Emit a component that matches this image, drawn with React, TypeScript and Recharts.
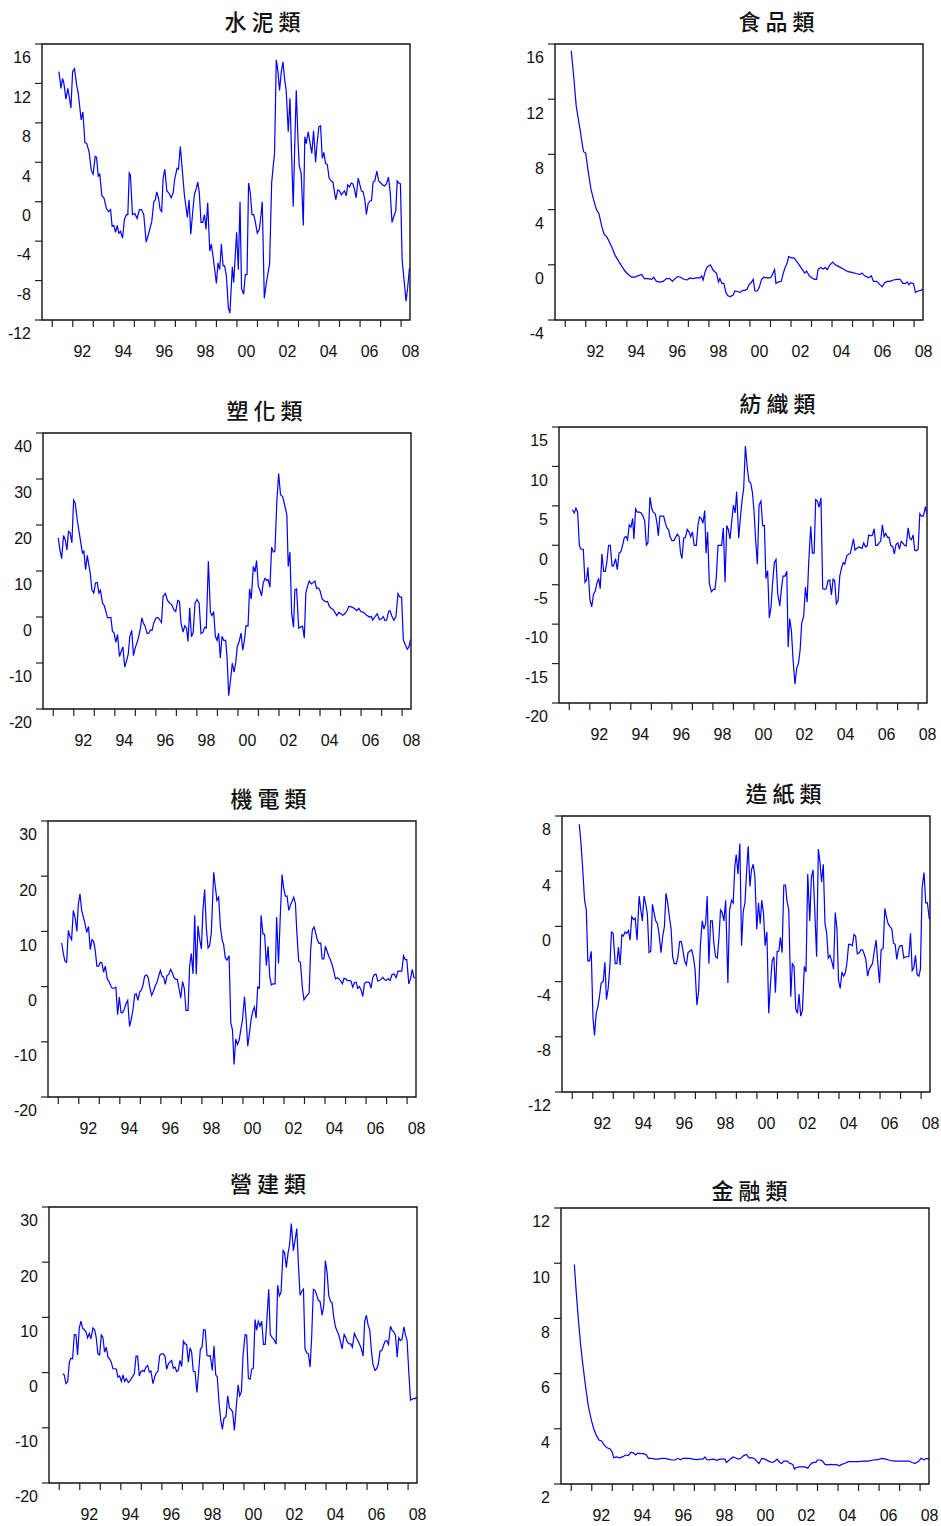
import { LineChart, Line, XAxis, YAxis, ReferenceArea } from "recharts"

type Pt = [number, number]

// x = months since Jan 1991, y = value
const cement: Pt[] = [
  [3.9,13.2],[5.1,11.5],[6.0,12.5],[6.8,12.0],[8.0,10.4],[9.1,11.5],[9.9,10.7],[10.9,9.5],[11.9,13.2],[13.0,13.5],
  [14.2,11.9],[15.2,11.0],[16.9,8.3],[17.9,9.1],[19.1,6.0],[20.2,5.9],[21.6,5.0],[22.8,3.2],[23.9,2.8],[25.1,4.6],
  [25.9,4.5],[26.9,2.6],[27.8,2.8],[29.0,0.6],[30.2,0.4],[31.7,-0.7],[32.9,-1.0],[34.1,-0.8],[35.0,-2.5],[36.0,-2.4],
  [37.0,-3.1],[38.0,-2.4],[38.9,-3.2],[39.9,-3.0],[41.1,-3.7],[42.2,-1.8],[43.4,-1.3],[44.2,-1.3],[45.0,2.9],[45.7,2.7],
  [46.9,-1.3],[48.3,-1.2],[49.6,-1.7],[51.0,-0.8],[52.2,-0.8],[53.5,-1.3],[54.9,-4.1],[56.4,-3.2],[58.2,-2.0],[59.4,0.0],
  [60.3,0.2],[61.1,1.0],[62.1,0.4],[63.1,-0.8],[64.0,-1.0],[64.8,2.3],[65.8,3.3],[67.0,1.1],[68.1,0.9],[69.5,0.4],
  [70.7,0.9],[71.6,2.3],[73.0,3.4],[73.8,3.3],[74.9,5.6],[76.1,3.1],[77.3,0.6],[78.1,-0.4],[79.0,-1.6],[80.0,0.2],
  [81.0,-3.3],[82.1,-1.1],[83.1,0.7],[84.3,1.4],[85.1,2.0],[86.0,0.9],[87.0,-2.1],[88.0,-2.1],[89.0,-1.3],[89.9,-2.8],
  [90.9,-0.1],[92.1,-5.0],[93.0,-4.3],[94.0,-5.5],[95.0,-6.9],[96.0,-8.3],[96.9,-6.2],[97.9,-6.9],[98.9,-4.3],[99.9,-6.5],
  [100.8,-6.5],[101.8,-7.5],[103.0,-10.8],[103.9,-11.3],[105.3,-6.6],[106.1,-8.2],[107.1,-5.2],[107.8,-3.1],[108.8,-6.9],[109.8,0.0],
  [110.7,-8.8],[111.9,-9.4],[112.9,-7.4],[113.9,-7.4],[114.8,1.9],[115.8,0.9],[116.8,-1.3],[117.8,-1.3],[118.7,-2.0],[119.9,-3.2],
  [121.1,-2.8],[121.8,-1.8],[122.8,0.0],[124.0,-9.8],[125.2,-8.2],[126.1,-7.3],[127.1,-6.3],[128.3,1.9],[129.2,3.6],[130.0,4.9],
  [131.0,14.4],[132.0,13.2],[132.9,11.3],[133.9,13.1],[134.9,14.2],[135.9,12.4],[136.8,11.3],[138.0,7.1],[139.0,10.5],[140.0,4.6],
  [140.9,-0.5],[141.9,6.3],[142.7,11.3],[143.7,6.3],[144.4,3.7],[145.6,2.8],[146.8,-2.4],[147.7,6.6],[148.5,5.9],[149.7,7.1],
  [150.7,6.0],[151.8,4.9],[152.8,7.2],[154.0,4.0],[154.7,5.6],[155.9,7.6],[156.9,7.7],[157.9,4.4],[158.8,5.0],[159.8,3.9],
  [160.8,3.8],[161.9,2.4],[163.1,2.1],[164.1,2.0],[165.1,0.9],[165.8,0.2],[167.0,1.2],[168.0,1.1],[169.0,0.7],[169.9,0.9],
  [170.9,1.1],[171.9,0.6],[172.8,1.7],[173.8,1.5],[174.8,1.9],[175.8,1.8],[176.7,1.3],[177.7,0.4],[178.9,2.4],[179.9,1.7],
  [180.8,1.1],[181.8,1.0],[182.8,0.2],[183.7,-1.3],[184.7,-0.2],[185.9,0.1],[186.7,0.1],[187.6,2.0],[188.6,2.1],[189.8,3.1],
  [190.9,2.1],[192.1,1.9],[193.3,1.7],[194.3,1.6],[195.4,1.8],[196.6,2.5],[197.6,1.0],[198.7,-2.1],[199.9,-1.4],[200.9,-0.9],
  [201.7,2.1],[202.6,1.9],[203.6,1.8],[204.6,-5.9],[205.7,-7.9],[206.9,-10.1],[207.9,-8.6],[208.9,-6.7],
]

const food: Pt[] = [
  [3.5,15.5],[4.9,13.7],[6.4,11.5],[8.4,10.0],[10.0,8.7],[10.7,8.2],[11.9,8.1],[13.5,6.7],[15.0,5.5],[16.6,4.7],
  [18.2,4.0],[19.7,3.7],[21.3,2.8],[22.8,2.2],[24.4,2.0],[26.0,1.6],[27.5,1.2],[29.1,0.7],[31.0,0.3],[33.0,-0.1],
  [34.9,-0.45],[36.9,-0.7],[38.8,-0.9],[40.8,-0.9],[42.4,-0.8],[44.7,-0.7],[46.3,-1.0],[48.2,-1.0],[50.6,-1.05],[51.7,-0.9],
  [53.3,-1.2],[55.2,-1.25],[57.2,-1.2],[59.2,-1.0],[61.1,-1.0],[62.7,-1.2],[64.2,-1.0],[65.8,-0.85],[67.4,-0.9],[69.3,-1.05],
  [71.3,-1.1],[72.8,-0.95],[74.8,-1.0],[76.7,-0.95],[78.7,-0.95],[79.8,-0.8],[80.6,-1.1],[81.8,-0.5],[83.0,-0.15],[84.9,0.0],
  [86.5,-0.4],[88.4,-0.6],[89.6,-1.25],[90.4,-1.0],[91.6,-1.35],[92.7,-1.35],[93.9,-2.0],[95.1,-2.25],[96.6,-2.3],[98.2,-2.2],
  [99.2,-1.9],[100.9,-1.95],[102.5,-2.0],[103.7,-1.85],[105.2,-1.85],[106.4,-1.75],[107.6,-1.4],[108.7,-1.3],[109.9,-1.05],[110.9,-1.9],
  [112.3,-1.9],[113.4,-1.65],[114.8,-1.05],[116.2,-0.9],[117.7,-0.95],[119.7,-0.95],[120.8,-0.8],[122.4,-0.35],[123.2,-1.35],[124.4,-1.25],
  [126.3,-1.2],[127.5,-0.6],[128.6,-0.2],[129.8,0.15],[130.6,0.6],[132.2,0.5],[133.7,0.5],[135.3,0.25],[136.8,0.0],[138.4,-0.3],
  [140.0,-0.6],[141.1,-0.45],[142.7,-0.8],[144.3,-0.95],[145.8,-1.05],[147.0,-1.05],[147.8,-0.35],[149.3,-0.2],[150.9,-0.3],[152.1,-0.2],
  [153.2,-0.35],[154.8,0.0],[156.4,0.2],[157.9,0.0],[160.3,-0.15],[162.6,-0.3],[165.3,-0.5],[167.7,-0.55],[170.4,-0.65],[172.4,-0.7],
  [173.5,-0.6],[175.1,-0.8],[177.5,-0.95],[179.0,-0.8],[180.2,-1.2],[182.1,-1.2],[183.7,-1.4],[185.3,-1.6],[186.8,-1.3],[188.4,-1.2],
  [189.9,-1.2],[191.9,-1.1],[193.9,-1.05],[195.8,-1.05],[197.4,-1.35],[198.9,-1.35],[200.1,-1.25],[200.9,-1.45],[202.1,-1.3],[203.6,-1.35],
  [204.8,-2.0],[206.3,-1.9],[207.9,-1.85],[209.2,-1.75],
]

const plastic: Pt[] = [
  [2.9,17.2],[3.9,14.6],[4.9,12.7],[6.0,17.7],[7.0,16.8],[8.0,14.6],[8.9,18.6],[9.9,18.3],[10.9,16.1],[11.9,25.4],
  [12.8,24.8],[14.0,21.2],[15.2,18.3],[16.4,15.4],[17.1,13.9],[17.9,14.3],[18.9,10.3],[19.9,13.4],[20.6,11.7],[21.6,9.6],
  [22.6,5.9],[23.7,5.2],[24.7,7.4],[25.7,7.5],[26.7,5.2],[27.6,5.8],[28.8,3.0],[29.8,2.5],[30.8,1.2],[31.7,-0.2],
  [33.7,-0.1],[34.6,-3.1],[35.6,-3.5],[36.6,-5.5],[37.6,-3.8],[38.7,-8.6],[39.7,-7.5],[40.7,-6.5],[41.8,-10.9],[42.8,-9.6],
  [43.8,-8.2],[44.8,-4.2],[45.9,-2.9],[46.9,-8.4],[47.9,-6.7],[48.9,-5.7],[50.0,-4.2],[51.0,-2.4],[51.8,-0.2],[52.7,-1.3],
  [53.7,-2.0],[54.9,-3.6],[55.9,-3.5],[56.8,-2.8],[57.8,-2.9],[58.8,-1.3],[60.0,-0.2],[61.1,-0.1],[62.3,-0.6],[63.3,-1.2],
  [64.2,4.5],[65.6,5.1],[66.8,3.6],[68.1,3.0],[69.3,2.7],[70.5,1.6],[71.6,1.2],[72.8,3.6],[73.8,3.4],[74.7,-1.3],
  [75.9,-3.3],[76.9,-1.9],[77.9,-2.4],[78.8,-5.3],[79.8,2.0],[80.8,-4.3],[81.8,-3.5],[82.9,3.0],[84.1,3.8],[85.3,3.0],
  [86.4,-3.6],[87.6,-3.3],[88.6,-2.2],[89.5,-2.4],[90.7,12.1],[91.9,1.0],[92.8,0.3],[93.8,1.2],[94.8,-4.2],[95.8,-5.1],
  [96.7,-3.5],[97.7,-8.9],[98.7,-4.2],[99.7,-5.1],[100.8,-5.1],[101.6,-8.6],[102.6,-17.1],[103.7,-13.6],[104.7,-10.0],[105.7,-12.0],
  [106.7,-10.0],[107.6,-6.4],[108.6,-5.5],[109.8,-3.5],[110.8,-7.2],[111.7,-5.3],[112.7,-1.9],[113.9,-2.0],[114.8,6.1],[115.8,3.9],
  [117.0,11.0],[118.0,9.8],[118.9,12.3],[119.9,6.7],[120.9,5.8],[121.8,4.6],[122.8,7.4],[123.8,8.4],[124.8,8.0],[125.7,8.1],
  [126.7,6.5],[127.7,15.2],[128.7,14.1],[129.6,14.3],[130.8,25.5],[131.8,31.2],[132.9,26.6],[134.1,26.2],[135.3,24.4],[136.6,22.2],
  [137.4,11.0],[138.4,14.1],[139.4,0.9],[140.5,-2.2],[141.3,5.9],[142.3,6.1],[143.5,-2.4],[144.6,-2.2],[145.8,-2.0],[146.8,-4.6],
  [147.7,5.2],[148.7,6.7],[149.7,7.8],[150.9,7.2],[152.0,7.5],[153.0,7.8],[154.0,6.2],[155.1,6.3],[156.1,5.6],[157.3,3.9],
  [158.2,3.6],[159.2,3.3],[160.4,3.4],[161.4,2.3],[162.5,1.9],[163.7,1.6],[164.7,1.0],[165.8,0.3],[167.0,1.0],[168.2,0.7],
  [169.3,0.4],[170.5,0.7],[171.7,1.3],[172.8,2.3],[174.4,2.2],[175.9,1.9],[177.5,1.4],[178.7,1.9],[179.8,1.2],[181.4,1.0],
  [182.9,0.5],[184.9,0.0],[186.1,0.1],[186.8,-0.7],[188.0,0.0],[189.5,0.7],[190.7,-0.6],[191.9,-0.4],[193.0,0.1],[194.0,-0.8],
  [195.0,-0.6],[196.1,1.2],[196.9,1.4],[198.1,0.1],[199.2,-0.7],[200.4,0.1],[201.6,5.1],[202.7,4.3],[203.7,4.3],[204.7,-4.9],
  [205.8,-6.0],[207.0,-7.0],[208.0,-6.5],[208.9,-4.9],
]

const textile: Pt[] = [
  [1.8,4.5],[2.9,4.1],[3.9,4.7],[4.9,4.2],[5.9,0.0],[6.8,-0.5],[8.2,-0.5],[9.2,-4.7],[10.1,-4.4],[10.9,-2.8],
  [12.1,-6.9],[13.1,-7.8],[14.2,-6.2],[15.2,-5.8],[16.2,-4.8],[17.2,-4.2],[18.1,-5.5],[19.1,-1.1],[20.1,-3.3],[21.1,-3.3],
  [22.0,-2.1],[23.0,0.0],[24.0,0.0],[25.0,-2.6],[25.9,-2.6],[27.1,-1.7],[28.1,-3.1],[29.1,-1.0],[30.2,-0.8],[31.2,0.0],
  [32.2,1.0],[33.2,1.1],[34.1,0.7],[35.1,2.6],[36.1,2.3],[37.1,3.4],[37.8,0.8],[38.8,4.6],[39.8,4.2],[41.0,4.2],
  [42.1,4.1],[43.1,3.7],[44.1,3.1],[45.1,0.0],[46.0,0.3],[47.2,6.1],[48.2,4.7],[49.1,4.2],[50.3,4.0],[51.3,2.8],
  [52.1,1.2],[53.0,3.7],[54.2,3.7],[55.2,3.7],[56.2,2.8],[57.1,2.2],[58.1,2.0],[58.9,1.1],[60.1,0.6],[61.2,0.6],
  [62.2,1.0],[63.2,1.4],[64.2,1.1],[65.1,-1.0],[65.9,-1.7],[66.9,0.9],[67.9,1.0],[69.0,2.0],[70.0,1.7],[71.0,1.1],
  [72.0,1.7],[73.1,0.0],[74.3,0.0],[75.3,2.6],[76.2,3.6],[77.2,3.4],[78.2,2.8],[79.2,4.4],[80.0,-1.0],[80.9,1.7],
  [81.9,-4.8],[83.1,-5.9],[84.3,-5.6],[85.2,-5.6],[86.0,-4.0],[87.0,0.0],[88.2,0.0],[89.1,0.0],[90.1,2.2],[91.1,-4.7],
  [92.1,2.5],[93.0,2.0],[94.0,0.8],[95.0,3.0],[96.0,5.1],[97.0,4.1],[97.9,6.8],[99.1,0.9],[100.0,3.3],[101.0,5.6],
  [102.0,7.2],[103.0,12.6],[104.1,9.8],[105.1,8.1],[106.1,7.9],[107.1,6.7],[108.0,4.5],[109.0,0.6],[110.0,-2.4],[111.0,5.1],
  [112.1,5.6],[113.1,2.5],[114.1,2.5],[115.0,-4.2],[116.0,-3.2],[117.0,-9.2],[118.0,-7.8],[118.9,-4.8],[119.9,-2.2],[120.9,-1.8],
  [121.9,-6.1],[123.1,-7.7],[124.1,-5.5],[125.0,-3.9],[126.2,-3.9],[127.2,-3.3],[128.0,-12.9],[128.9,-9.3],[129.9,-10.8],[130.9,-14.6],
  [132.0,-17.6],[133.0,-15.6],[134.0,-15.0],[135.0,-13.3],[135.9,-9.9],[137.1,-9.0],[138.1,-5.3],[139.1,-7.2],[140.0,-2.3],[141.2,2.4],
  [142.2,-1.0],[143.2,-1.0],[144.1,5.8],[145.1,5.6],[146.1,4.8],[147.2,6.0],[148.2,-5.5],[149.4,-5.6],[150.3,-5.5],[151.3,-4.5],
  [152.3,-4.4],[153.3,-6.3],[154.3,-4.3],[155.2,-4.5],[156.2,-7.4],[157.2,-7.0],[158.2,-3.9],[159.2,-2.9],[160.2,-2.2],[161.1,-2.4],
  [162.3,-1.3],[163.5,-1.1],[164.4,-1.0],[165.4,0.0],[166.2,0.8],[167.1,-0.6],[168.1,-0.4],[169.3,-0.2],[170.3,-0.3],[171.2,-0.4],
  [172.2,0.3],[173.2,-0.2],[174.2,-0.1],[175.1,1.3],[176.3,1.2],[177.3,1.3],[178.3,2.1],[179.2,0.0],[180.2,0.0],[181.2,0.3],
  [182.1,0.5],[183.1,2.6],[184.1,1.1],[185.1,1.5],[186.1,1.0],[187.0,1.0],[188.0,0.0],[189.2,-0.2],[190.1,-1.1],[191.1,0.1],
  [192.1,0.3],[193.1,-0.5],[194.1,0.5],[195.0,0.3],[196.0,0.0],[197.0,-0.1],[198.2,2.2],[199.1,0.9],[200.1,0.7],[201.1,1.3],
  [202.0,-0.6],[203.0,-0.7],[204.0,-0.5],[205.0,4.0],[206.0,3.7],[207.1,3.7],[208.3,4.9],[209.1,4.0],
]

const electric: Pt[] = [
  [2.0,7.9],[2.9,6.1],[3.9,4.6],[4.9,4.4],[5.9,10.2],[6.8,9.1],[7.8,8.5],[8.8,13.8],[9.9,12.4],[10.9,10.0],
  [11.7,14.8],[12.7,16.8],[13.7,13.8],[14.6,12.7],[15.6,11.5],[16.6,9.8],[17.7,10.9],[18.7,6.7],[19.7,8.5],[20.7,8.2],
  [21.6,6.6],[22.6,3.7],[23.6,3.7],[24.6,4.4],[25.5,4.3],[26.5,2.6],[27.5,3.7],[28.7,1.3],[29.6,1.0],[30.6,0.2],
  [31.6,-0.3],[32.6,-0.3],[33.7,-0.1],[34.7,-5.1],[35.7,-1.9],[36.7,-4.7],[37.6,-4.7],[38.6,-4.1],[39.6,-3.1],[40.6,-2.5],
  [41.7,-7.2],[42.7,-5.9],[43.7,-4.2],[44.7,-1.5],[45.6,-1.3],[46.6,-2.5],[47.6,-1.0],[48.6,-0.6],[49.5,0.2],[50.5,1.9],
  [51.7,2.1],[52.6,1.6],[53.6,-0.3],[54.6,-1.6],[55.8,-0.7],[56.8,0.2],[57.7,0.7],[58.7,1.9],[59.7,2.9],[60.7,1.9],
  [61.6,1.7],[62.6,0.4],[63.6,2.0],[64.6,2.2],[65.7,3.1],[66.7,2.5],[67.7,1.6],[68.7,1.3],[69.6,1.3],[70.6,-0.3],
  [71.6,-2.1],[72.7,0.9],[73.7,-0.3],[74.7,-4.3],[75.9,-4.3],[76.8,3.7],[77.8,6.0],[78.8,2.3],[79.8,12.9],[80.7,2.2],
  [81.7,11.0],[82.7,8.6],[83.7,6.8],[84.6,13.9],[85.6,17.6],[86.6,10.6],[87.6,7.0],[88.5,7.4],[89.5,9.7],[90.9,20.7],
  [91.9,17.9],[92.8,15.6],[93.8,16.2],[94.8,10.9],[95.8,8.5],[96.7,7.6],[97.7,5.2],[98.7,4.8],[99.9,5.6],[100.9,-6.6],
  [101.9,-7.9],[102.8,-14.1],[103.8,-9.5],[104.8,-10.5],[105.8,-9.7],[106.7,-7.9],[107.7,-6.1],[108.9,-1.8],[109.9,-6.0],[110.8,-10.8],
  [111.8,-8.4],[112.8,-5.9],[113.7,-4.5],[114.7,-3.7],[115.7,-5.7],[116.6,-0.1],[117.6,-0.3],[118.6,12.9],[119.7,9.6],[120.7,9.4],
  [121.7,3.8],[122.7,7.3],[123.7,1.7],[124.6,0.3],[125.6,0.5],[126.8,0.5],[127.7,12.6],[128.8,4.2],[129.9,13.3],[130.9,20.3],
  [131.8,17.9],[132.8,16.4],[133.8,16.4],[134.8,13.8],[135.7,14.7],[136.7,15.4],[137.7,16.2],[138.7,15.0],[139.6,9.4],[140.6,4.6],
  [141.6,4.4],[142.8,-0.4],[143.7,-2.4],[144.7,-1.9],[145.7,-1.5],[146.7,-1.2],[147.6,6.7],[148.6,10.3],[149.6,10.8],[150.6,9.6],
  [151.5,8.5],[152.5,7.8],[153.5,7.9],[154.3,5.0],[155.3,5.0],[156.2,7.3],[157.2,6.4],[158.2,5.5],[159.1,4.9],[160.1,4.0],
  [161.1,2.8],[162.1,1.4],[163.2,1.6],[164.2,1.4],[165.2,1.0],[166.2,0.5],[167.1,1.5],[168.1,1.4],[169.1,1.1],[170.3,1.1],
  [171.2,1.0],[172.2,-0.1],[173.2,0.7],[174.2,0.8],[175.1,-0.3],[176.1,0.0],[177.1,-0.6],[178.1,-1.8],[179.0,0.5],[180.0,0.8],
  [181.0,0.8],[182.0,0.7],[182.9,-0.3],[183.9,1.6],[184.9,2.2],[185.9,2.2],[186.8,1.0],[187.8,1.1],[188.8,1.3],[189.8,1.7],
  [190.7,1.3],[191.7,1.1],[192.9,1.4],[194.0,1.1],[195.2,2.2],[196.4,2.3],[197.6,1.6],[198.7,2.8],[199.9,2.8],[200.9,2.8],
  [201.9,5.6],[202.9,4.9],[203.8,4.9],[205.0,0.5],[206.0,1.4],[207.0,3.1],[208.0,1.6],[208.9,1.6],
]

const paper: Pt[] = [
  [4.1,7.4],[5.1,6.0],[6.0,4.4],[7.2,1.9],[8.2,1.2],[9.1,-2.5],[10.1,-2.5],[11.1,-1.8],[12.1,-6.6],[13.0,-7.9],
  [14.0,-6.3],[15.0,-5.8],[15.9,-5.1],[16.9,-4.1],[18.1,-4.0],[19.1,-2.6],[20.0,-5.3],[21.0,-4.5],[22.0,-2.9],[22.9,-0.4],
  [23.9,-0.5],[25.1,-2.7],[26.1,-2.7],[27.0,-1.5],[28.0,-2.8],[29.0,-0.6],[29.9,-0.7],[30.9,-0.4],[31.9,-0.5],[32.9,-0.3],
  [33.8,-1.0],[34.8,0.7],[35.8,0.5],[36.8,0.6],[37.9,-1.0],[39.1,2.2],[40.1,1.2],[41.0,0.4],[42.0,2.2],[43.0,1.6],
  [43.9,0.9],[44.9,-1.9],[45.9,-1.8],[46.9,1.6],[47.8,1.0],[48.8,0.4],[49.8,0.2],[50.8,-0.6],[51.9,-1.9],[52.9,-0.7],
  [53.9,0.0],[54.8,2.4],[55.8,1.7],[56.8,0.7],[57.8,-0.2],[58.7,-2.2],[59.7,-2.7],[60.9,-2.7],[61.8,-2.2],[62.8,-1.1],
  [63.8,-1.1],[64.8,-1.8],[65.7,-2.5],[66.7,-2.8],[67.7,-1.9],[68.7,-1.8],[69.8,-1.7],[70.8,-2.2],[71.8,-3.1],[72.9,-5.7],
  [73.9,-4.7],[74.9,-1.4],[76.0,0.4],[77.0,-0.2],[78.0,0.2],[78.9,2.2],[79.9,-2.7],[80.9,0.4],[81.9,0.4],[82.8,-1.2],
  [83.8,-2.2],[84.8,-2.3],[85.8,-0.8],[86.7,1.2],[87.7,1.0],[88.7,0.4],[89.7,1.9],[91.0,-4.1],[92.0,1.2],[93.2,1.9],
  [94.1,1.7],[95.1,4.4],[95.9,5.2],[96.9,3.8],[98.0,6.0],[99.0,-1.4],[100.0,1.1],[101.0,1.7],[102.0,4.1],[102.9,5.8],
  [103.9,2.9],[104.8,4.1],[105.8,4.5],[106.8,3.6],[107.9,-0.2],[108.9,1.7],[109.9,0.2],[110.8,1.9],[111.8,1.0],[112.8,-1.4],
  [113.8,-0.4],[114.9,-6.3],[115.9,-4.2],[116.9,-2.5],[117.9,-2.2],[118.8,-4.8],[119.8,-1.8],[120.8,-1.8],[121.7,-0.8],[122.7,-1.9],
  [123.7,3.0],[124.7,3.0],[125.6,1.8],[126.6,1.2],[127.8,-5.1],[128.7,-2.7],[129.7,-2.9],[130.7,-6.0],[131.7,-6.3],[132.6,-4.9],
  [133.6,-6.5],[134.6,-6.1],[135.7,-2.9],[136.7,-3.3],[137.7,3.8],[138.9,0.4],[139.8,3.5],[140.8,4.1],[141.8,1.2],[142.9,-2.2],
  [143.9,5.6],[144.9,4.6],[145.8,3.2],[146.8,4.5],[147.8,0.2],[148.8,-0.5],[149.7,-2.3],[150.7,-2.1],[151.7,-2.5],[152.8,-3.1],
  [153.8,1.0],[154.8,-0.2],[155.7,-3.9],[156.7,-4.5],[157.7,-3.3],[158.7,-3.6],[159.6,-3.4],[160.6,-2.7],[161.6,-1.3],[162.6,-1.3],
  [163.8,-1.4],[164.7,-0.6],[165.7,-0.7],[166.7,-2.0],[167.9,-1.9],[168.8,-1.7],[169.8,-1.7],[170.7,-2.0],[171.7,-2.4],[172.7,-3.6],
  [173.7,-3.1],[174.6,-2.9],[175.6,-2.7],[176.6,-1.8],[177.7,-1.0],[178.7,-2.7],[179.7,-4.1],[180.6,-1.7],[181.8,-1.6],[182.8,1.3],
  [183.7,0.7],[184.7,0.2],[185.7,0.0],[186.9,-0.2],[187.8,-1.2],[188.8,-1.3],[189.8,-2.4],[190.8,-1.6],[191.9,-1.4],[192.9,-1.4],
  [193.9,-2.3],[194.8,-2.2],[195.8,-2.2],[196.8,-2.2],[197.8,-0.5],[198.8,-3.2],[199.7,-3.0],[200.7,-2.1],[201.7,-3.5],[202.7,-3.6],
  [203.6,-3.1],[204.6,2.8],[205.7,3.9],[206.7,1.7],[207.7,1.7],[208.7,0.6],[209.1,0.5],
]

const construction: Pt[] = [
  [2.0,-0.2],[2.9,-0.4],[3.9,-2.0],[4.9,-1.7],[5.9,1.9],[6.8,2.6],[7.8,2.5],[8.8,6.9],[9.8,6.8],[10.7,3.2],
  [11.7,8.1],[12.7,9.3],[13.7,8.0],[14.6,7.8],[15.6,7.4],[16.6,6.3],[17.6,7.1],[18.5,6.1],[19.7,8.1],[20.7,7.7],
  [21.6,6.4],[22.6,3.4],[23.6,3.2],[24.6,6.8],[25.5,6.4],[26.5,3.7],[27.5,4.6],[28.5,2.8],[29.4,2.5],[30.4,1.9],
  [31.4,0.7],[32.4,0.7],[33.4,0.6],[34.3,-0.8],[35.3,-0.6],[36.3,-1.6],[37.3,-0.4],[38.2,-1.6],[39.2,-1.1],[40.4,-1.8],
  [41.5,-1.4],[42.7,-0.8],[43.9,-0.2],[44.9,3.0],[45.8,3.0],[46.8,-0.6],[47.8,0.2],[48.8,0.4],[49.7,0.2],[50.7,1.0],
  [51.7,1.3],[52.7,0.1],[53.6,0.3],[54.8,-2.0],[55.8,-0.8],[56.8,0.0],[57.7,0.2],[58.7,3.1],[59.7,3.4],[60.8,3.4],
  [61.8,3.0],[62.8,0.6],[63.8,1.6],[64.7,1.9],[65.7,2.2],[66.7,0.8],[67.7,1.0],[68.6,0.2],[69.6,0.4],[70.6,2.2],
  [71.6,1.1],[72.6,5.7],[73.5,5.2],[74.5,5.1],[75.5,1.9],[76.5,4.5],[77.4,3.7],[78.4,0.2],[79.4,0.2],[80.5,-3.6],
  [81.5,0.1],[82.5,4.2],[83.5,4.6],[84.4,7.8],[85.4,7.7],[86.4,3.1],[87.4,3.0],[88.3,3.1],[89.5,0.4],[90.5,4.8],
  [91.5,-0.4],[92.4,-0.8],[93.4,-5.3],[94.4,-8.5],[95.4,-10.3],[96.3,-8.3],[97.5,-8.0],[98.5,-4.2],[99.5,-6.4],[100.5,-6.7],
  [101.4,-7.1],[102.4,-10.5],[103.6,-5.9],[104.6,-2.2],[105.5,-4.2],[106.5,-3.5],[107.5,3.2],[108.7,6.9],[109.6,6.8],[110.6,-1.0],
  [111.6,-1.2],[112.5,0.6],[113.5,0.8],[114.5,9.6],[115.4,7.7],[116.4,9.3],[117.4,8.4],[118.4,9.3],[119.4,5.1],[120.5,5.1],
  [121.5,10.1],[122.5,15.1],[123.4,6.9],[124.6,6.3],[125.6,6.0],[126.8,5.2],[127.7,15.8],[128.7,13.9],[129.7,14.6],[130.9,22.1],
  [131.8,21.7],[132.8,19.0],[133.8,21.7],[134.7,23.2],[135.7,27.0],[136.9,22.1],[137.9,24.0],[138.9,26.1],[139.8,20.0],[140.8,14.0],
  [141.8,14.7],[142.8,15.1],[143.7,4.3],[144.7,3.6],[145.7,3.4],[146.7,1.0],[147.6,6.4],[148.6,15.1],[149.6,14.9],[150.6,14.0],
  [151.5,13.1],[152.5,12.9],[153.7,10.4],[154.7,12.2],[155.6,20.3],[156.6,18.2],[157.6,14.0],[158.6,12.9],[159.5,12.7],[160.5,10.1],
  [161.5,8.3],[162.5,7.5],[163.4,6.9],[164.4,5.7],[165.4,4.3],[166.6,6.9],[167.6,6.3],[168.5,5.5],[169.5,5.2],[170.5,5.2],
  [171.4,4.6],[172.6,7.1],[173.6,6.4],[174.6,5.8],[175.5,5.2],[176.5,4.5],[177.7,3.0],[178.6,9.3],[179.6,10.4],[180.6,8.6],
  [181.6,7.7],[182.6,3.7],[183.5,1.4],[184.7,0.4],[185.7,0.7],[186.6,1.6],[187.6,3.9],[188.6,4.0],[189.6,4.9],[190.5,5.7],
  [191.5,5.8],[192.5,5.1],[193.7,8.4],[194.6,7.7],[195.6,7.4],[196.6,6.8],[197.6,2.8],[198.5,6.3],[199.5,5.8],[200.5,6.1],
  [201.5,8.3],[202.5,6.8],[203.4,5.8],[204.4,0.1],[205.4,-5.0],[206.4,-4.8],[207.3,-4.7],[208.3,-4.7],[208.9,-4.4],
]

const finance: Pt[] = [
  [1.8,9.95],[2.9,8.96],[4.1,8.0],[5.5,7.03],[6.8,6.31],[8.4,5.52],[9.9,4.86],[11.1,4.5],[11.9,4.28],[13.1,4.01],
  [14.6,3.77],[16.2,3.59],[17.7,3.56],[19.3,3.41],[20.9,3.31],[22.8,3.27],[24.0,3.15],[24.8,2.95],[26.3,2.98],[28.3,2.95],
  [30.2,2.99],[31.8,3.05],[33.3,3.03],[34.9,3.15],[36.5,3.12],[37.6,3.05],[38.8,3.12],[40.4,3.1],[42.3,3.1],[43.9,3.05],
  [45.1,2.93],[47.0,2.93],[49.0,2.9],[50.9,2.9],[52.9,2.93],[54.8,2.93],[56.8,2.9],[58.7,2.87],[60.7,2.87],[62.2,2.93],
  [63.8,2.88],[65.3,2.93],[67.3,2.93],[69.2,2.93],[71.2,2.9],[73.1,2.88],[75.1,2.9],[77.0,2.9],[78.2,2.98],[79.4,2.87],
  [81.3,2.88],[83.3,2.9],[85.2,2.86],[86.8,2.9],[88.3,2.9],[89.9,2.9],[90.7,2.78],[92.6,2.88],[94.6,2.98],[95.8,2.95],
  [97.7,2.9],[99.3,2.93],[100.8,3.03],[102.4,3.07],[104.0,2.95],[105.9,2.95],[107.5,2.9],[108.6,2.81],[109.8,2.74],[111.4,2.93],
  [113.3,2.9],[115.3,2.83],[117.2,2.78],[118.8,2.81],[120.3,2.9],[121.9,2.78],[123.1,2.74],[124.2,2.83],[126.2,2.83],[127.4,2.76],
  [128.5,2.74],[129.7,2.69],[130.5,2.54],[131.3,2.59],[133.2,2.62],[135.2,2.62],[136.7,2.62],[138.3,2.57],[139.8,2.71],[141.4,2.78],
  [143.0,2.78],[144.1,2.87],[145.7,2.87],[146.9,2.83],[148.4,2.71],[150.4,2.69],[151.9,2.71],[153.5,2.69],[155.1,2.71],[156.6,2.66],
  [158.2,2.71],[160.1,2.75],[162.1,2.81],[164.8,2.81],[167.9,2.81],[170.6,2.83],[173.8,2.83],[176.5,2.87],[179.2,2.88],[181.6,2.93],
  [183.9,2.9],[186.2,2.86],[189.0,2.83],[192.1,2.83],[195.2,2.83],[197.6,2.83],[199.1,2.78],[201.1,2.75],[203.0,2.81],[204.6,2.93],
  [206.2,2.88],[207.7,2.93],[209.2,2.9],
]

// one tick per year, Jan 1991 .. Jan 2008
const yearTicks = [0, 12, 24, 36, 48, 60, 72, 84, 96, 108, 120, 132, 144, 156, 168, 180, 192, 204]
const xDomain: [number, number] = [-6, 209.2]

const labelFont = "'Liberation Sans', Arial, sans-serif"

function XTick(props: any) {
  const { x, y, payload } = props
  const year = 1991 + Math.round(payload.value / 12)
  if (year % 2 !== 0) return <g />
  return (
    <text x={x + 9.5} y={y + 27.5} textAnchor="middle" fontFamily={labelFont} fontSize={16} fill="#111">
      {String(year % 100).padStart(2, "0")}
    </text>
  )
}

function YTick(props: any) {
  const { x, y, payload } = props
  return (
    <text x={x - 2} y={y + 19.3} textAnchor="end" fontFamily={labelFont} fontSize={16} fill="#111">
      {payload.value}
    </text>
  )
}

interface PanelProps {
  title: string
  data: Pt[]
  yDomain: [number, number]
  yTicks: number[]
  left: number
  top: number
  titleX: number
  titleY: number
}

const W = 368
const H = 276

function Panel({ title, data, yDomain, yTicks, left, top, titleX, titleY }: PanelProps) {
  const rows = data.map(([m, v]) => ({ m, v }))
  return (
    <>
      <div
        style={{
          position: "absolute",
          left: titleX - 100,
          top: titleY - 18,
          width: 200,
          textAlign: "center",
          fontFamily: "'Noto Sans CJK TC', sans-serif",
          fontSize: 22,
          fontWeight: 500,
          lineHeight: "32px",
          letterSpacing: 5,
          paddingLeft: 5,
          color: "#111",
        }}
      >
        {title}
      </div>
      <div style={{ position: "absolute", left: left - 60, top: top - 40 }}>
        <LineChart width={W + 70} height={H + 90} data={rows} margin={{ top: 40, right: 10, bottom: 0, left: 0 }}>
          <XAxis
            dataKey="m"
            type="number"
            domain={xDomain}
            ticks={yearTicks}
            interval={0}
            allowDataOverflow
            height={50}
            tickSize={7}
            axisLine={false}
            tickLine={{ stroke: "#222", strokeWidth: 1.2 }}
            tick={(p: any) => <XTick {...p} />}
          />
          <YAxis
            type="number"
            domain={yDomain}
            ticks={yTicks}
            interval={0}
            allowDataOverflow
            width={60}
            tickSize={7}
            axisLine={false}
            tickLine={{ stroke: "#222", strokeWidth: 1.2 }}
            tick={(p: any) => <YTick {...p} />}
          />
          <ReferenceArea
            x1={xDomain[0]}
            x2={xDomain[1]}
            y1={yDomain[0]}
            y2={yDomain[1]}
            fill="none"
            stroke="#111"
            strokeWidth={1.4}
            ifOverflow="visible"
          />
          <Line type="linear" dataKey="v" stroke="#0000ff" strokeWidth={1.2} dot={false} isAnimationActive={false} />
        </LineChart>
      </div>
    </>
  )
}

export default function App() {
  return (
    <div style={{ position: "absolute", left: 0, top: 0, width: 941, height: 1526, background: "#fff" }}>
      <Panel title="水泥類" data={cement} yDomain={[-12, 16]} yTicks={[-12, -8, -4, 0, 4, 8, 12, 16]} left={42} top={44} titleX={260} titleY={22} />
      <Panel title="食品類" data={food} yDomain={[-4, 16]} yTicks={[-4, 0, 4, 8, 12, 16]} left={555} top={44} titleX={774} titleY={22} />
      <Panel title="塑化類" data={plastic} yDomain={[-20, 40]} yTicks={[-20, -10, 0, 10, 20, 30, 40]} left={43} top={433} titleX={262} titleY={411} />
      <Panel title="紡織類" data={textile} yDomain={[-20, 15]} yTicks={[-20, -15, -10, -5, 0, 5, 10, 15]} left={559} top={427} titleX={775} titleY={404} />
      <Panel title="機電類" data={electric} yDomain={[-20, 30]} yTicks={[-20, -10, 0, 10, 20, 30]} left={48} top={821} titleX={266} titleY={799} />
      <Panel title="造紙類" data={paper} yDomain={[-12, 8]} yTicks={[-12, -8, -4, 0, 4, 8]} left={562} top={816} titleX={781} titleY={794} />
      <Panel title="營建類" data={construction} yDomain={[-20, 30]} yTicks={[-20, -10, 0, 10, 20, 30]} left={49} top={1207} titleX={265.5} titleY={1184} />
      <Panel title="金融類" data={finance} yDomain={[2, 12]} yTicks={[2, 4, 6, 8, 10, 12]} left={561} top={1208} titleX={747} titleY={1191} />
    </div>
  )
}
